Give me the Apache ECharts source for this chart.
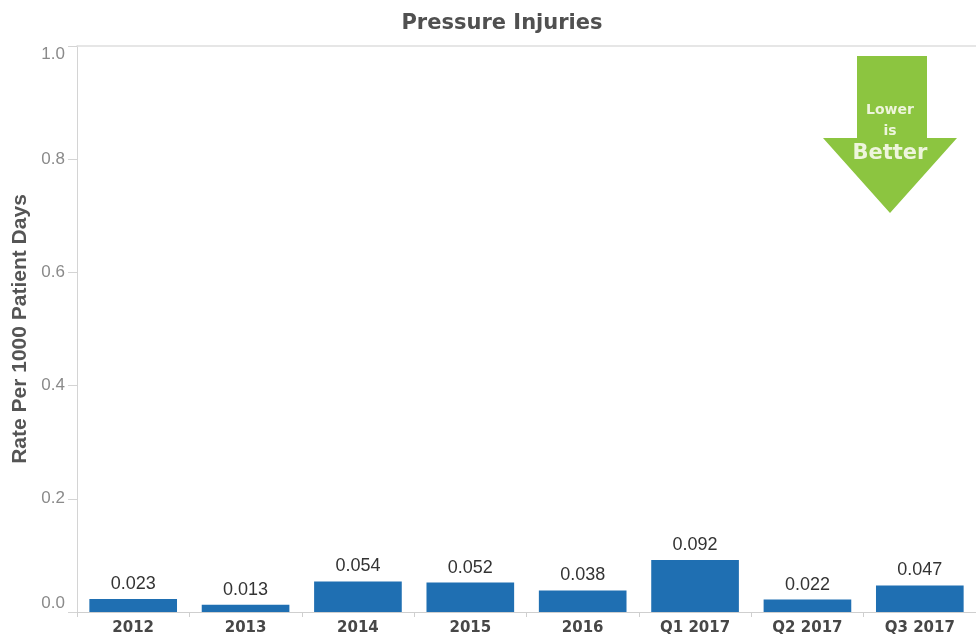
<!DOCTYPE html>
<html>
<head>
<meta charset="utf-8">
<title>Pressure Injuries</title>
<script src="https://cdn.jsdelivr.net/npm/echarts@6/dist/echarts.min.js"></script>
<style>
  html, body { margin: 0; padding: 0; background: #ffffff; }
  #chart { width: 976px; height: 640px; }
</style>
</head>
<body>
<div id="chart"></div>
<script>
// Reporting periods and pressure injury rates per 1000 patient days
const periods = ['2012', '2013', '2014', '2015', '2016', 'Q1 2017', 'Q2 2017', 'Q3 2017'];
const rates = [0.023, 0.013, 0.054, 0.052, 0.038, 0.092, 0.022, 0.047];
const yTicks = [0, 0.2, 0.4, 0.6, 0.8, 1.0];

const chart = echarts.init(document.getElementById('chart'), null, { renderer: 'canvas' });

const arrowGreen = '#8cc540';
const arrowText = '#eef5dc';

chart.setOption({
  backgroundColor: '#ffffff',
  animation: false,
  title: {
    text: 'Pressure Injuries',
    top: 8,
    left: 497,
    textAlign: 'center',
    textStyle: {
      fontFamily: 'DejaVu Sans',
      fontWeight: 'bold',
      fontSize: 21,
      color: '#505050'
    }
  },
  grid: { left: 77, right: 0, top: 46, bottom: 28, containLabel: false },
  xAxis: [
    {
      type: 'category',
      data: periods,
      position: 'bottom',
      axisLine: { show: true, lineStyle: { color: '#cfcfcf', width: 1 } },
      axisTick: { show: true, alignWithLabel: false, length: 5, lineStyle: { color: '#cfcfcf' } },
      axisLabel: {
        margin: 9,
        fontFamily: 'DejaVu Sans',
        fontWeight: 'bold',
        fontSize: 15,
        color: '#474747'
      }
    },
    {
      // closes the plot along the top edge (the 1.0 line)
      type: 'category',
      data: periods,
      position: 'top',
      axisLine: { show: true, lineStyle: { color: '#dedede', width: 1.5 } },
      axisTick: { show: false },
      axisLabel: { show: false }
    }
  ],
  yAxis: {
    type: 'value',
    min: yTicks[0],
    max: yTicks[yTicks.length - 1],
    interval: yTicks[1] - yTicks[0],
    name: 'Rate Per 1000 Patient Days',
    nameLocation: 'middle',
    nameRotate: 90,
    nameGap: 44,
    nameTextStyle: {
      fontFamily: 'Liberation Sans',
      fontWeight: 'bold',
      fontSize: 21,
      color: '#555555'
    },
    axisLine: { show: true, lineStyle: { color: '#d4d4d4', width: 1 } },
    axisTick: { show: true, length: 9, lineStyle: { color: '#d4d4d4' } },
    splitLine: { show: false },
    axisLabel: {
      margin: 12,
      fontFamily: 'Liberation Sans',
      fontSize: 17,
      color: '#8a8a8a',
      formatter: v => v.toFixed(1),
      verticalAlignMinLabel: 'bottom',
      verticalAlignMaxLabel: 'top',
      rich: {}
    }
  },
  series: [
    {
      type: 'bar',
      data: rates,
      barCategoryGap: '22%',
      itemStyle: { color: '#1f6fb2' },
      label: {
        show: true,
        position: 'top',
        distance: 6,
        fontFamily: 'Liberation Sans',
        fontSize: 18,
        color: '#333333',
        formatter: p => p.value.toFixed(3)
      }
    }
  ],
  graphic: [
    {
      // "Lower is Better" down arrow
      type: 'group',
      right: 19,
      top: 56,
      children: [
        {
          type: 'polygon',
          shape: {
            points: [[34, 0], [104, 0], [104, 82], [134, 82], [67, 157], [0, 82], [34, 82]]
          },
          style: { fill: arrowGreen }
        },
        {
          type: 'text',
          x: 67, y: 54,
          style: {
            text: 'Lower', fill: arrowText, align: 'center', verticalAlign: 'middle',
            fontFamily: 'DejaVu Sans', fontWeight: 'bold', fontSize: 14
          }
        },
        {
          type: 'text',
          x: 67, y: 75,
          style: {
            text: 'is', fill: arrowText, align: 'center', verticalAlign: 'middle',
            fontFamily: 'DejaVu Sans', fontWeight: 'bold', fontSize: 14
          }
        },
        {
          type: 'text',
          x: 67, y: 98,
          style: {
            text: 'Better', fill: arrowText, align: 'center', verticalAlign: 'middle',
            fontFamily: 'DejaVu Sans', fontWeight: 'bold', fontSize: 21
          }
        }
      ]
    }
  ]
});
</script>
</body>
</html>
